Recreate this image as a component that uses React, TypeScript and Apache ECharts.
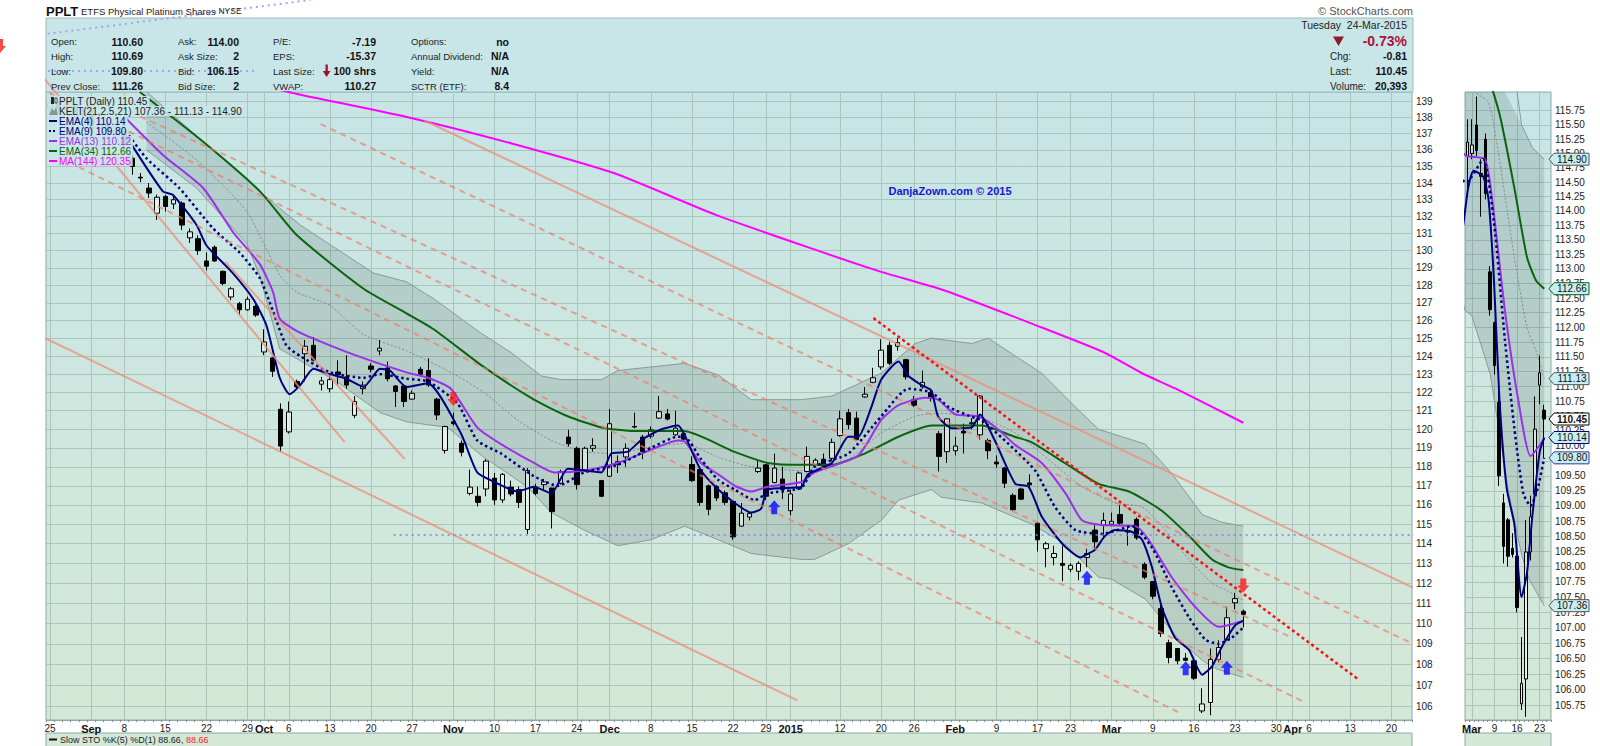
import React, { useEffect, useRef } from "react";
import * as echarts from "echarts";

const FONT = "'Liberation Sans', Arial, Helvetica, sans-serif";

// ---------- calendar ----------
const HOLIDAYS = ["2014-09-01", "2014-11-27", "2014-12-25", "2015-01-01", "2015-01-19", "2015-02-16", "2015-04-03"];
const FIRST_SESSION = "2014-08-25";
const AXIS_SESSIONS = 166;

function tradingDays(start: string, n: number, holidays: string[]): string[] {
  const out: string[] = [];
  const d = new Date(start + "T00:00:00Z");
  while (out.length < n) {
    const wd = d.getUTCDay();
    const s = d.toISOString().slice(0, 10);
    if (wd !== 0 && wd !== 6 && holidays.indexOf(s) < 0) out.push(s);
    d.setUTCDate(d.getUTCDate() + 1);
  }
  return out;
}
const dates = tradingDays(FIRST_SESSION, AXIS_SESSIONS, HOLIDAYS);

// ---------- daily prices (Aug 25 2014 .. Mar 24 2015) ----------
const open = [
  138.6, 138.9, 138.5, 138.7, 138.2, 138.4, 137.3, 137.6, 137.0, 137.2,
  135.5, 134.35, 133.7, 132.2, 133.2, 132.75, 132.8, 130.75, 130.7, 129.4,
  130.2, 128.8, 127.33, 126.95, 126.6, 126.8, 124.23, 123.9, 121.08, 119.86,
  122.6, 124.13, 124.6, 122.45, 122.2, 123.12, 122.85, 120.75, 122.2, 123.45,
  124.29, 123.34, 122.35, 122.35, 121.63, 123.27, 123.2, 121.63, 118.87, 120.4,
  119.25, 116.6, 116.45, 116.83, 117.4, 116.26, 116.93, 116.8, 114.73, 116.93,
  117.06, 116.88, 117.13, 119.58, 118.98, 117.85, 118.98, 117.27, 117.5, 118.12,
  118.52, 120.15, 119.58, 119.63, 120.6, 120.83, 119.7, 119.76, 118.12, 117.85,
  117.0, 116.96, 116.63, 116.18, 114.9, 115.37, 117.75, 118.1, 117.17, 117.35,
  115.7, 116.83, 117.75, 118.07, 118.4, 118.45, 119.66, 120.9, 120.6, 121.75,
  122.55, 123.4, 124.6, 124.55, 123.8, 121.6, 122.3, 122.0, 119.76, 118.8,
  118.85, 119.9, 120.3, 119.7, 119.4, 118.25, 117.93, 116.5, 116.83, 117.15,
  115.05, 113.75, 113.3, 113.0, 112.7, 112.6, 113.3, 114.7, 114.95, 115.0,
  115.5, 114.65, 115.25, 112.95, 112.08, 110.73, 109.05, 108.77, 108.3, 108.17,
  105.77, 106.17, 108.24, 109.2, 111.02, 110.6,
];
const close = [
  138.9, 138.5, 138.7, 138.2, 138.4, 137.3, 137.6, 137.0, 137.2, 136.3,
  135.0, 134.3, 133.4, 133.15, 132.6, 133.0, 131.5, 131.1, 130.0, 129.1,
  129.4, 128.1, 127.8, 126.6, 127.2, 126.3, 124.79, 123.16, 119.1, 120.93,
  122.3, 124.55, 123.77, 122.63, 122.7, 122.97, 122.4, 121.5, 122.4, 123.27,
  124.44, 122.75, 122.05, 121.5, 121.95, 123.0, 122.4, 120.77, 120.15, 120.3,
  118.77, 116.93, 116.13, 118.3, 116.26, 117.6, 116.57, 116.13, 117.8, 116.6,
  117.2, 115.65, 117.75, 119.22, 117.06, 118.98, 119.12, 116.45, 120.3, 118.27,
  118.98, 120.12, 118.8, 119.97, 120.95, 120.55, 120.06, 119.47, 117.27, 116.13,
  115.77, 116.36, 116.13, 114.35, 115.57, 115.55, 117.93, 116.45, 117.93, 116.8,
  116.57, 117.67, 118.55, 118.35, 118.03, 119.3, 120.56, 120.25, 119.45, 121.9,
  122.8, 124.33, 123.6, 124.75, 122.85, 121.3, 122.55, 121.7, 118.55, 120.56,
  119.1, 119.8, 120.35, 121.8, 118.85, 118.15, 117.13, 115.75, 116.3, 117.05,
  114.2, 114.0, 113.5, 112.9, 112.9, 113.0, 113.5, 114.1, 115.2, 115.15,
  115.05, 114.6, 114.3, 112.3, 111.35, 109.5, 108.33, 108.17, 108.2, 107.33,
  106.1, 108.24, 108.82, 110.28, 111.23, 110.45,
];
const low = [
  138.3, 138.3, 138.2, 138.0, 137.9, 137.1, 137.0, 136.8, 136.7, 136.0,
  134.5, 134.05, 133.1, 131.8, 132.3, 132.45, 131.2, 130.45, 129.75, 128.85,
  129.35, 128.0, 127.15, 126.3, 126.55, 126.2, 124.05, 122.85, 118.8, 119.77,
  122.2, 122.6, 123.7, 122.1, 122.0, 122.4, 122.2, 120.6, 121.9, 123.1,
  124.05, 122.6, 121.2, 121.2, 121.6, 122.87, 122.3, 120.5, 118.7, 120.2,
  118.55, 116.5, 115.92, 116.45, 116.0, 116.1, 116.45, 115.84, 114.5, 116.5,
  116.8, 114.78, 117.06, 119.07, 116.8, 117.75, 118.8, 116.4, 117.47, 117.67,
  118.0, 120.05, 118.4, 119.5, 120.55, 120.48, 119.65, 119.35, 117.2, 115.95,
  115.46, 116.2, 116.0, 114.2, 114.87, 115.2, 117.67, 116.26, 117.13, 116.3,
  115.46, 116.8, 117.7, 118.0, 117.95, 118.3, 119.6, 120.0, 119.4, 121.7,
  122.5, 123.25, 123.5, 124.3, 122.7, 121.2, 122.2, 121.5, 117.75, 118.2,
  118.6, 118.7, 120.0, 119.45, 118.4, 117.95, 116.88, 115.7, 116.25, 116.8,
  113.6, 112.8, 112.9, 112.1, 112.55, 112.15, 112.8, 113.7, 114.3, 114.9,
  114.95, 113.9, 114.2, 112.2, 111.2, 109.33, 108.05, 108.0, 108.15, 107.25,
  105.67, 105.56, 108.1, 109.17, 110.7, 109.8,
];
const high = [
  139.3, 139.1, 139.0, 138.9, 138.6, 138.5, 137.9, 137.8, 137.5, 137.4,
  135.8, 134.6, 134.0, 133.3, 133.3, 133.2, 132.9, 131.3, 130.9, 129.9,
  130.3, 128.85, 127.9, 127.05, 127.35, 126.9, 125.5, 123.95, 121.4, 121.5,
  122.7, 124.9, 125.07, 122.85, 123.0, 123.77, 124.05, 121.8, 122.6, 123.6,
  124.9, 123.7, 122.4, 122.4, 122.1, 123.4, 123.88, 121.7, 120.2, 120.9,
  119.4, 117.85, 116.96, 118.4, 117.67, 117.67, 117.27, 116.96, 117.93, 117.1,
  117.36, 116.9, 117.85, 119.97, 119.07, 119.07, 119.52, 117.3, 121.1, 118.6,
  119.25, 120.9, 119.7, 120.15, 121.8, 121.1, 121.0, 119.9, 118.55, 117.85,
  117.06, 117.05, 116.75, 116.2, 116.1, 115.65, 118.3, 118.15, 118.7, 118.0,
  116.8, 117.75, 119.07, 118.45, 118.7, 119.5, 121.0, 121.1, 120.95, 122.3,
  123.35, 124.94, 124.8, 125.0, 123.85, 121.8, 123.2, 122.2, 119.9, 120.6,
  119.6, 120.3, 120.6, 121.85, 119.5, 118.6, 118.0, 116.6, 116.9, 117.6,
  115.1, 114.1, 113.9, 113.9, 113.0, 113.1, 113.75, 114.95, 115.6, 115.6,
  116.0, 114.9, 115.35, 113.05, 112.1, 111.07, 109.2, 108.8, 108.55, 108.2,
  106.85, 108.77, 109.17, 110.83, 111.52, 110.69,
];

// ---------- overlays: [session index, price] ----------
const ema4 = [[9.3,136.8],[13.7,133.5],[14.9,133.3],[17.8,131.5],[19,130.3],[22.2,128.7],[24.7,127.2],[26.3,125.7],[27.9,122.8],[29.1,121.9],[30.4,122.4],[32,123.3],[34,123.0],[36,122.75],[38.1,122.3],[40.1,123.3],[41.3,123.2],[43.3,122.3],[45.9,122.5],[49.9,119.8],[51.9,117.7],[54,117.2],[56.8,116.7],[58.8,116.95],[60.9,116.6],[62.9,117.9],[64.9,117.8],[67,117.7],[68.2,118.7],[70.2,118.8],[71.8,119.4],[74.3,120.0],[76.3,120.2],[77.1,119.7],[79.1,117.8],[81.2,116.8],[83.2,116.1],[85.2,115.6],[86.4,115.8],[87.2,116.8],[91.3,116.95],[92.1,117.6],[95,118.2],[97,119.6],[98.2,119.6],[99.8,121.2],[101,122.7],[103.1,123.7],[104.3,122.9],[105.9,122.4],[107.1,122.1],[107.9,120.7],[109.6,120.05],[112,120.1],[113,120.8],[114.8,119.4],[117.3,117.1],[118.9,116.95],[120.5,115.4],[123,114.0],[125.2,113.3],[126.2,113.5],[127,113.7],[128.2,114.4],[129.4,114.7],[131.5,114.6],[132.7,114.2],[133.9,112.8],[135.1,110.8],[136.7,109.3],[138.4,108.7],[140,107.5],[141.2,107.9],[142.4,108.85],[144,109.9],[145,110.14]];
const ema9 = [[8.4,137.7],[11.7,135.5],[15.7,133.7],[19.8,131.3],[23,129.9],[25.5,128.4],[27.1,126.5],[28.7,124.6],[30.4,124.0],[34,123.1],[38.1,122.8],[40.1,123.0],[43.3,122.75],[45.9,122.6],[49.5,121.4],[51.9,119.4],[54.8,118.7],[58.8,117.5],[61.7,117.0],[64.9,117.7],[69,118.1],[73,119.0],[76.3,119.6],[77.1,119.6],[79.1,118.4],[81.2,117.3],[83.2,116.8],[85.6,116.25],[87.2,116.6],[91.3,116.9],[92.9,118.0],[97,118.7],[101,120.7],[104.3,122.2],[107.1,122.0],[109.2,121.2],[112.4,120.6],[113.2,120.5],[116.5,119.2],[119.7,117.8],[122.1,115.9],[124.6,114.7],[127.8,114.5],[131.5,114.9],[133.9,113.8],[136.3,111.8],[138.4,110.3],[140.4,109.2],[142,109.0],[143.6,109.3],[145,109.8]];
const ema13 = [[8.9,138.1],[13.7,135.7],[18.6,133.7],[22.2,131.1],[25.5,129.2],[27.1,127.6],[27.9,126.1],[30,125.4],[34,124.6],[38,123.9],[43.3,123.1],[45.9,122.8],[48.7,122.2],[51.9,120.1],[54.8,119.2],[58.8,118.2],[61.3,117.7],[64.9,117.8],[69,118.2],[73,118.9],[76.3,119.4],[77.1,119.35],[79.1,118.2],[81.2,117.6],[83.2,117.0],[85.2,116.7],[87.2,116.95],[91.3,117.2],[92.9,117.7],[98.2,118.6],[101,120.5],[103.1,121.3],[106.3,121.7],[107.9,121.6],[110,120.8],[112.8,120.7],[115.2,120.0],[117.3,119.15],[120.5,118.2],[123.4,116.6],[125.4,115.2],[127.8,114.96],[131.9,114.9],[133.5,114.2],[136.3,112.3],[139.2,110.8],[142,109.83],[145,110.12]];
const ema34 = [[10.9,139.58],[18.6,136.5],[25.5,133.5],[30,130.9],[38.1,127.8],[43.3,126.4],[46.6,125.5],[52.7,123.4],[58.8,121.6],[62.9,120.7],[67,120.1],[71,119.9],[77,119.9],[83.1,118.8],[87.2,118.2],[91.3,118.1],[95,118.1],[99,118.7],[103.1,119.6],[107.1,120.2],[113.2,120.2],[117.2,119.6],[119.3,119.3],[123.3,118.2],[127.4,117.1],[131.1,116.7],[135.1,115.7],[138.4,114.4],[141.2,113.2],[143.2,112.8],[145,112.66]];
const ma144 = [[25.6,140.0],[30,139.46],[43.6,138.0],[56.1,136.4],[68.5,134.6],[80.9,132.1],[93.3,130.0],[100.8,128.8],[108.7,127.7],[120.5,125.6],[128.1,124.2],[132.7,123.05],[136.8,122.2],[145,120.35]];
const keltUpper = [[11.7,139.6],[25.5,133.5],[27.9,132.5],[30.4,131.5],[39.3,128.7],[43.3,128.2],[46.7,127.2],[52.3,125.3],[56,124.2],[59.7,122.9],[62.1,122.7],[67,122.7],[69,123.2],[77.1,123.6],[81.2,122.95],[85.2,121.6],[91.3,121.6],[95,121.8],[101,123.05],[105.1,124.7],[107.1,125.0],[112,124.7],[114,125.0],[117.3,124.0],[120.5,123.05],[124.6,121.2],[127.4,120.0],[133.1,119.2],[136.3,117.65],[140,115.5],[142.4,115.1],[145,114.9]];
const keltMid = [[11.7,137.7],[17.8,135.4],[23.9,132.3],[27.9,128.6],[30,127.6],[34,126.85],[38.1,125.2],[43.3,124.3],[48.7,123.1],[52.7,122.0],[56.8,120.5],[60.9,119.4],[64.9,118.8],[69,118.7],[73,119.06],[77.1,119.24],[81.2,118.5],[85.2,118.0],[91.3,117.8],[97,118.4],[101,119.8],[105.1,120.7],[108.3,120.86],[113.2,120.6],[117.3,119.8],[121.3,118.4],[125.4,116.95],[129.4,116.1],[132.7,115.9],[135.1,114.9],[138.4,113.2],[141.2,112.0],[143.2,111.6],[145,111.13]];
const keltLower = [[11.7,136.0],[17.8,133.7],[23.9,130.4],[25.5,128.5],[27.9,124.4],[34.8,122.6],[40.1,120.9],[43.3,120.4],[48.3,120.1],[52.7,118.5],[58,116.95],[60.9,115.6],[64.9,114.7],[69,113.9],[73,114.2],[77.1,114.9],[81.2,114.2],[85.2,113.5],[91.3,113.2],[92.9,113.2],[97,114.0],[101,115.2],[103.1,116.25],[107.1,116.8],[108.3,116.4],[113.2,116.1],[119.3,115.0],[123.3,114.0],[127.4,112.3],[129,112.2],[133.1,111.2],[137.2,109.2],[140,108.2],[141.6,107.8],[145,107.36]];

// ---------- hand-drawn annotations (session index, price) ----------
const trendSolid = [
  [[-6.09, 126.22], [90.81, 106.27]],
  [[-6.09, 143.84], [35.79, 119.31]],
  [[21.3, 129.34], [43.09, 118.41]],
  [[45.49, 137.81], [171.15, 110.71]],
];
const trendDashed = [
  [[32.87, 137.59], [168.23, 108.5]],
  [[-6.09, 141.03], [152.16, 106.24]],
  [[-6.09, 137.35], [137.31, 105.67]],
  [[8.52, 138.61], [150.94, 109.3]],
];
const trendRedDotted = [[100.06, 126.13], [159.1, 107.24]];
const supportLine = [[41.75, 114.44], [166.8, 114.44]];
const lavenderLines = [
  [[-6.09, 140.9], [24.95, 140.9]],
  [[-6.09, 142.87], [31.65, 145.46]],
];
const redArrows = [[49, 121.64], [145, 111.88], [-6.09, 142.49]];
const blueArrows = [[88, 115.88], [126, 112.28], [138, 107.81], [143, 107.83]];

// ---------- axes ----------
const xTickIdx = [0, 5, 9, 14, 19, 24, 26, 29, 34, 39, 44, 49, 54, 59, 64, 68, 73, 78, 83, 87, 90, 96, 101, 105, 110, 115, 120, 124, 129, 134, 139, 144, 149, 151, 153, 158, 163];
const xTickLabel = ["25", "Sep", "8", "15", "22", "29", "Oct", "6", "13", "20", "27", "Nov", "10", "17", "24", "Dec", "8", "15", "22", "29", "2015", "12", "20", "26", "Feb", "9", "17", "23", "Mar", "9", "16", "23", "30", "Apr", "6", "13", "20"];
const boldTickLabels = ["Sep", "Oct", "Nov", "Dec", "2015", "Feb", "Mar", "Apr"];
const zoomFirst = 128;
const zoomEnd = 147;
const zoomTickIdx = [129, 134, 139, 144];
const zoomTickLabel = ["Mar", "9", "16", "23"];
const priceTicks = [106, 107, 108, 109, 110, 111, 112, 113, 114, 115, 116, 117, 118, 119, 120, 121, 122, 123, 124, 125, 126, 127, 128, 129, 130, 131, 132, 133, 134, 135, 136, 137, 138, 139];
const zoomPriceTicks = [105.75, 106, 106.25, 106.5, 106.75, 107, 107.25, 107.5, 107.75, 108, 108.25, 108.5, 108.75, 109, 109.25, 109.5, 109.75, 110, 110.25, 110.5, 110.75, 111, 111.25, 111.5, 111.75, 112, 112.25, 112.5, 112.75, 113, 113.25, 113.5, 113.75, 114, 114.25, 114.5, 114.75, 115, 115.25, 115.5, 115.75];
const mainRange = [105.34, 139.58];
const zoomRange = [105.51, 116.08];

// ---------- quote header ----------
const quoteCol1 = [["Open:", "110.60"], ["High:", "110.69"], ["Low:", "109.80"], ["Prev Close:", "111.26"]];
const quoteCol2 = [["Ask:", "114.00"], ["Ask Size:", "2"], ["Bid:", "106.15"], ["Bid Size:", "2"]];
const quoteCol3 = [["P/E:", "-7.19"], ["EPS:", "-15.37"], ["Last Size:", "100 shrs"], ["VWAP:", "110.27"]];
const quoteCol4 = [["Options:", "no"], ["Annual Dividend:", "N/A"], ["Yield:", "N/A"], ["SCTR (ETF):", "8.4"]];
const quoteRight = [["Chg:", "-0.81"], ["Last:", "110.45"], ["Volume:", "20,393"]];
const quoteDate = "Tuesday  24-Mar-2015";
const quotePct = "-0.73%";
const stoValues = ["88.66", "88.66"];

// ---------- colours ----------
const C_EMA4 = "#000080";
const C_EMA13 = "#9b30e8";
const C_EMA34 = "#0b640b";
const C_MA144 = "#ff00ff";
const C_KELT = "#8a9999";

const last = (a: number[][]) => a[a.length - 1][1];
const f2 = (v: number) => v.toFixed(2);

function App() {
  const ref = useRef<HTMLDivElement>(null);

  useEffect(() => {
    const chart = echarts.init(ref.current as HTMLDivElement, null, { renderer: "svg" });
    const candles = open.map((o, k) => [o, close[k], low[k], high[k]]);
    const tickMap: Record<number, string> = {};
    xTickIdx.forEach((v, k) => (tickMap[v] = xTickLabel[k]));
    const zoomTickMap: Record<number, string> = {};
    zoomTickIdx.forEach((v, k) => (zoomTickMap[v - zoomFirst] = zoomTickLabel[k]));

    const bg = {
      type: "linear", x: 0, y: 0, x2: 0, y2: 1,
      colorStops: [{ offset: 0, color: "#c7e5e6" }, { offset: 1, color: "#d4e8d7" }],
    };
    const labelFmt = (map: Record<number, string>) => (_v: any, idx: number) => {
      const s = map[idx];
      if (s === undefined) return "";
      return boldTickLabels.indexOf(s) >= 0 ? "{m|" + s + "}" : s;
    };
    const catAxis = (grid: number, data: string[], map: Record<number, string>) => ({
      type: "category", gridIndex: grid, data, boundaryGap: true,
      axisLine: { show: true, lineStyle: { color: "#8fa8a8" } },
      axisTick: { show: true, interval: 0, length: 2, lineStyle: { color: "#7f9090" } },
      axisLabel: {
        interval: (idx: number) => map[idx] !== undefined,
        formatter: labelFmt(map), margin: 3, fontSize: 10, color: "#222", fontFamily: FONT,
        rich: { m: { fontWeight: "bold", fontSize: 11, color: "#111", fontFamily: FONT } },
      },
      splitLine: { show: false },
    });

    const gridMarks = (hTicks: number[], hLabels: string[], vTicks: number[]) => ({
      silent: true, symbol: ["none", "none"], z: 1, animation: false,
      lineStyle: { color: "#abc4bc", width: 1, type: "solid" },
      emphasis: { disabled: true },
      label: { show: true, position: "end", distance: 4, color: "#222", fontSize: 10, fontFamily: FONT, formatter: "{b}" },
      data: [
        ...hTicks.map((v, k) => ({ yAxis: v, name: hLabels[k] })),
        ...vTicks.map((v) => ({ xAxis: v, name: "", label: { show: false } })),
      ],
    });

    const bandRender = (params: any, api: any) => {
      const cs = params.coordSys;
      const cl = (p: number[]) => [
        Math.min(Math.max(p[0], cs.x - 2), cs.x + cs.width + 2),
        Math.min(Math.max(p[1], cs.y), cs.y + cs.height),
      ];
      const up = keltUpper.map((d) => cl(api.coord(d)));
      const dn = keltLower.slice().reverse().map((d) => cl(api.coord(d)));
      return {
        type: "polygon", silent: true,
        shape: { points: up.concat(dn) },
        style: { fill: "rgba(45,65,65,0.15)", stroke: "none" },
        clipPath: { type: "rect", shape: { x: cs.x, y: cs.y, width: cs.width, height: cs.height } },
      };
    };

    const line = (data: any, color: string, width: number, type: any, xi: number, yi: number, z: number, smooth: any = 0.2, clip = true) => ({
      type: "line", data, xAxisIndex: xi, yAxisIndex: yi, symbol: "none", showSymbol: false,
      smooth, z, silent: true, clip, connectNulls: true,
      lineStyle: { color, width, type }, emphasis: { disabled: true },
    });

    const overlays = (xi: number, yi: number, withMA: boolean) => {
      const s: any[] = [
        { type: "custom", xAxisIndex: xi, yAxisIndex: yi, data: [[135, 112]], renderItem: bandRender, z: 2, silent: true, clip: true },
        line(keltUpper, C_KELT, 1, "solid", xi, yi, 3, false),
        line(keltLower, C_KELT, 1, "solid", xi, yi, 3, false),
        line(keltMid, "#7d8c8c", 1, [2, 2], xi, yi, 3, 0.2),
        line(ema34, C_EMA34, 2, "solid", xi, yi, 5),
        line(ema13, C_EMA13, 2, "solid", xi, yi, 5),
        line(ema9, C_EMA4, 2.5, [2.5, 3], xi, yi, 6),
        line(ema4, C_EMA4, 2, "solid", xi, yi, 6),
      ];
      if (withMA) s.push(line(ma144, C_MA144, 2, "solid", xi, yi, 5));
      return s;
    };

    const DOWN = "path://M3,0 L9,0 L9,7 L12,7 L6,14 L0,7 L3,7 Z";
    const UP = "path://M6,0 L12,7 L9,7 L9,14 L3,14 L3,7 L0,7 Z";

    const series: any[] = [
      { type: "line", xAxisIndex: 1, yAxisIndex: 0, data: [], z: 1, silent: true, markLine: gridMarks(priceTicks, priceTicks.map(String), xTickIdx) },
      { type: "line", xAxisIndex: 3, yAxisIndex: 1, data: [], z: 1, silent: true, markLine: gridMarks(zoomPriceTicks, zoomPriceTicks.map(f2), zoomTickIdx) },
      ...overlays(1, 0, true),
      ...overlays(3, 1, false),
      {
        type: "candlestick", xAxisIndex: 0, yAxisIndex: 0, data: candles, barWidth: 5, z: 4, silent: true,
        itemStyle: { color: "rgba(255,255,255,0.45)", color0: "#000", borderColor: "#000", borderColor0: "#000", borderWidth: 1 },
      },
      {
        type: "candlestick", xAxisIndex: 2, yAxisIndex: 1, data: candles.slice(zoomFirst), barWidth: 3, z: 4, silent: true,
        itemStyle: { color: "rgba(255,255,255,0.45)", color0: "#000", borderColor: "#000", borderColor0: "#000", borderWidth: 1 },
      },
      ...trendSolid.map((d) => line(d, "rgba(238,140,120,0.75)", 2, "solid", 1, 0, 8, false, false)),
      ...trendDashed.map((d) => line(d, "rgba(238,125,105,0.7)", 2, [6, 5], 1, 0, 8, false, false)),
      line(trendRedDotted, "#ff1010", 2.5, [3, 3], 1, 0, 9, false, false),
      line(supportLine, "#7f7fee", 1.5, [2, 4], 1, 0, 8, false, false),
      ...lavenderLines.map((d) => line(d, "#a2a2f0", 2, [2, 4], 1, 0, 8, false, false)),
      { type: "scatter", xAxisIndex: 1, yAxisIndex: 0, data: redArrows, symbol: DOWN, symbolSize: [12, 14], itemStyle: { color: "#ff1a1a" }, clip: false, z: 10, silent: true },
      { type: "scatter", xAxisIndex: 1, yAxisIndex: 0, data: blueArrows, symbol: UP, symbolSize: [12, 14], itemStyle: { color: "#0a0aff" }, clip: false, z: 10, silent: true },
    ];

    chart.setOption({
      animation: false,
      backgroundColor: "#ffffff",
      textStyle: { fontFamily: FONT },
      grid: [
        { left: 46, top: 92, width: 1366, height: 628, show: true, backgroundColor: bg, borderColor: "#8fa8a8", borderWidth: 1, outerBoundsMode: "none" },
        { left: 1465, top: 92, width: 86, height: 628, show: true, backgroundColor: bg, borderColor: "#8fa8a8", borderWidth: 1, outerBoundsMode: "none" },
      ],
      xAxis: [
        catAxis(0, dates, tickMap),
        { type: "value", gridIndex: 0, min: -0.5, max: AXIS_SESSIONS - 0.5, show: false },
        catAxis(1, dates.slice(zoomFirst, zoomEnd), zoomTickMap),
        { type: "value", gridIndex: 1, min: zoomFirst - 0.5, max: zoomEnd - 0.5, show: false },
      ],
      yAxis: [
        { type: "log", logBase: 10, gridIndex: 0, min: mainRange[0], max: mainRange[1], show: false },
        { type: "log", logBase: 10, gridIndex: 1, min: zoomRange[0], max: zoomRange[1], show: false },
      ],
      series,
    });

    // ---------- graphic overlay (header, legend, tags) ----------
    const txt = (x: number, y: number, text: string, o: any = {}) => ({
      type: "text", x, y, z: o.z || 20, silent: true,
      style: {
        text, fill: o.fill || "#111",
        font: `${o.weight || "normal"} ${o.size || 10}px ${FONT}`,
        align: o.align || "left", textAlign: o.align || "left",
        verticalAlign: "middle", textVerticalAlign: "middle",
        backgroundColor: o.bg, padding: o.bg ? [0, 2, 0, 1] : 0,
        rich: o.rich,
      },
    });
    const g: any[] = [];
    // header box
    g.push({ type: "rect", z: 0, silent: true, shape: { x: 46, y: 18, width: 1367, height: 74 }, style: { fill: "#c8e6e8", stroke: "#9dbcbc", lineWidth: 1 } });
    const title = txt(46, 11, "", {
      rich: {
        t: { fontSize: 13, fontWeight: "bold", fontFamily: FONT, fill: "#111", color: "#111" },
        s: { fontSize: 9.5, fontFamily: FONT, fill: "#222", color: "#222" },
        n: { fontSize: 8.5, fontFamily: FONT, fill: "#222", color: "#222" },
      },
    });
    title.style.text = "{t|PPLT} {s|ETFS Physical Platinum Shares} {n|NYSE}";
    g.push(title);
    g.push(txt(1413, 11, "\u00a9 StockCharts.com", { size: 11, fill: "#555", align: "right" }));
    const rowsY = [41.5, 56, 71, 86];
    const cols = [quoteCol1, quoteCol2, quoteCol3, quoteCol4];
    const labelX = [51, 178, 273, 411];
    const valueX = [143, 239, 376, 509];
    cols.forEach((col, c) => col.forEach(([lab, val], r) => {
      g.push(txt(labelX[c], rowsY[r], lab, { size: 9.5, fill: "#222" }));
      g.push(txt(valueX[c], rowsY[r], val, { size: 10.5, weight: "bold", fill: "#111", align: "right" }));
    }));
    g.push({ type: "polygon", z: 20, silent: true, shape: { points: [[325.5, 64.5], [327.8, 64.5], [327.8, 71], [330.5, 71], [326.6, 77], [322.8, 71], [325.5, 71]] }, style: { fill: "#a0102a" } });
    g.push(txt(1407, 25, quoteDate, { size: 10.5, fill: "#222", align: "right" }));
    g.push({ type: "polygon", z: 20, silent: true, shape: { points: [[1333, 36.5], [1344, 36.5], [1338.5, 46]] }, style: { fill: "#8b1a2b" } });
    g.push(txt(1407, 41, quotePct, { size: 14, weight: "bold", fill: "#b0103a", align: "right" }));
    quoteRight.forEach(([lab, val], r) => {
      g.push(txt(1330, rowsY[r + 1], lab, { size: 10, fill: "#222" }));
      g.push(txt(1407, rowsY[r + 1], val, { size: 10.5, weight: "bold", fill: "#111", align: "right" }));
    });
    // legend
    const legBg = "rgba(200,230,231,0.92)";
    const legY = [101, 111, 121, 131, 141, 151, 161];
    g.push({ type: "rect", z: 20, silent: true, shape: { x: 47, y: 95.5, width: 11, height: 70.5 }, style: { fill: legBg } });
    g.push({ type: "rect", z: 21, silent: true, shape: { x: 51, y: 97, width: 3, height: 7 }, style: { fill: "#222" } });
    g.push({ type: "rect", z: 21, silent: true, shape: { x: 55, y: 98, width: 2, height: 5 }, style: { fill: "#fff", stroke: "#222", lineWidth: 0.8 } });
    g.push(txt(58, legY[0], `PPLT (Daily) ${f2(close[close.length - 1])}`, { size: 10, fill: "#222", bg: legBg }));
    g.push({ type: "polygon", z: 21, silent: true, shape: { points: [[49, 115], [52, 108], [54, 111], [56, 107], [58, 115]] }, style: { fill: "#8a9696" } });
    g.push(txt(58, legY[1], `KELT(21,2.5,21) ${f2(last(keltLower))} - ${f2(last(keltMid))} - ${f2(last(keltUpper))}`, { size: 10, fill: "#222", bg: legBg }));
    const legLines = [
      [`EMA(4) ${f2(last(ema4))}`, C_EMA4, "solid"],
      [`EMA(9) ${f2(last(ema9))}`, C_EMA4, [2, 2]],
      [`EMA(13) ${f2(last(ema13))}`, C_EMA13, "solid"],
      [`EMA(34) ${f2(last(ema34))}`, C_EMA34, "solid"],
      [`MA(144) ${f2(last(ma144))}`, C_MA144, "solid"],
    ];
    legLines.forEach(([t, col, ty]: any, k) => {
      const y = legY[k + 2];
      g.push({ type: "line", z: 21, silent: true, shape: { x1: 49, y1: y, x2: 57, y2: y }, style: { stroke: col, lineWidth: 2, lineDash: ty === "solid" ? null : ty } });
      g.push(txt(58, y, t, { size: 10, fill: col, bg: legBg }));
    });
    // watermark
    g.push(txt(950, 191, "DanjaZown.com \u00a9 2015", { size: 11, weight: "bold", fill: "#1414dc", align: "center", z: 12 }));
    // STO strips
    g.push({ type: "rect", z: 0, silent: true, shape: { x: 46, y: 733, width: 1366, height: 20 }, style: { fill: "#d4e8d7", stroke: "#8fa8a8", lineWidth: 1 } });
    g.push({ type: "rect", z: 0, silent: true, shape: { x: 1465, y: 733, width: 86, height: 20 }, style: { fill: "#d4e8d7", stroke: "#8fa8a8", lineWidth: 1 } });
    g.push({ type: "line", z: 20, silent: true, shape: { x1: 49, y1: 739.5, x2: 57, y2: 739.5 }, style: { stroke: "#111", lineWidth: 2 } });
    const sto = txt(60, 740, "", {
      rich: { a: { fontSize: 9, fontFamily: FONT, fill: "#222", color: "#222" }, r: { fontSize: 9, fontFamily: FONT, fill: "#ff2020", color: "#ff2020" } },
    });
    sto.style.text = `{a|Slow STO %K(5) %D(1) ${stoValues[0]}, }{r|${stoValues[1]}}`;
    g.push(sto);

    // value tags on the zoom panel
    const tags = [
      [last(keltUpper), "#555", false],
      [last(ema34), C_EMA34, false],
      [last(keltMid), "#555", false],
      [close[close.length - 1], "#000", true],
      [last(ema4), C_EMA4, false],
      [last(ema9), "#3a3aa8", false],
      [last(keltLower), "#555", false],
    ];
    tags.forEach(([v, col, bold]: any) => {
      const y = chart.convertToPixel({ yAxisIndex: 1 } as any, v) as unknown as number;
      const x0 = 1549;
      g.push({ type: "polygon", z: 30, silent: true, shape: { points: [[x0, y], [x0 + 5, y - 6], [x0 + 40, y - 6], [x0 + 40, y + 6], [x0 + 5, y + 6]] }, style: { fill: bold ? "#ffffff" : "#c9eef2", stroke: col, lineWidth: 1 } });
      g.push(txt(x0 + 23, y, f2(v), { size: 10, weight: bold ? "bold" : "normal", fill: "#111", align: "center", z: 31 }));
    });

    chart.setOption({ graphic: { elements: g } });
    return () => chart.dispose();
  }, []);

  return <div ref={ref} style={{ position: "fixed", left: 0, top: 0, width: 1600, height: 746 }} />;
}

export default App;
